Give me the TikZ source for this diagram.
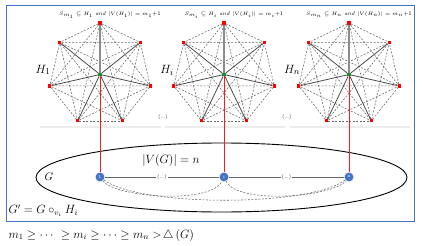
\documentclass[tikz,border=0pt]{standalone}
\usepackage{amsmath,amssymb}
\usetikzlibrary{shapes.geometric}
\definecolor{frameblue}{HTML}{4472C4}
\definecolor{hubgreen}{HTML}{1E8C2E}

\begin{document}
\begin{tikzpicture}[x=1pt,y=-1pt,
  hv/.style={fill=red,inner sep=0pt,minimum size=3.2pt},
  hc/.style={fill=hubgreen,inner sep=0pt,minimum size=3.4pt},
  gv/.style={circle,fill=frameblue,draw=white,line width=0.3pt,inner sep=0pt,
    minimum size=9.5pt,text=white,font=\fontsize{4.5}{5}\selectfont},
  spoke/.style={draw=black!70,line width=0.8pt},
  kedge/.style={draw=black!60,dash pattern=on 2pt off 1.5pt,line width=0.55pt},
  link/.style={draw=red!90,line width=1pt},
  gline/.style={draw=black!60,line width=0.7pt},
  dotlab/.style={font=\fontsize{5.5}{6}\selectfont,text=black!70,inner sep=1pt}]
\useasboundingbox (0,0) rectangle (423,246);
\draw[frameblue,line width=1pt] (6,6) rectangle (414,221);
% separators under the H graphs
\draw[black!7,line width=2pt] (40,127) -- (161,127);
\draw[black!7,line width=2pt] (165,127) -- (285,127);
\draw[black!7,line width=2pt] (290,127) -- (410,127);

% the graph G
\node[ellipse,draw,line width=0.9pt,minimum width=371pt,minimum height=69pt] (gset) at (221.5,177.5) {};
\node[gv] (g1) at (100,177) {1};
\node[gv] (g2) at (224,177) {i};
\node[gv] (g3) at (349,177) {n};
\draw[gline] (g1) -- node[dotlab,fill=white] {(\dots)} (g2);
\draw[gline] (g2) -- node[dotlab,fill=white] {(\dots)} (g3);
\draw[kedge] (g1) .. controls (115,197) and (210,205) .. (g2);
\draw[kedge] (g2) .. controls (238,205) and (333,197) .. (g3);
\draw[kedge] (g1) .. controls (140,207) and (310,207) .. (g3);
\node[font=\fontsize{11}{13}\selectfont] (glab) at (49,177) {$G$};
\node[font=\fontsize{12.5}{14}\selectfont] (vg) at (171,160) {$|V(G)|=n$};
\node[anchor=west,font=\fontsize{11.5}{13}\selectfont] (gprime) at (5,211) {$G'=G\circ_{v_i}H_i$};
\node[anchor=west,font=\fontsize{12}{14}\selectfont] (ineq) at (5,235)
  {$m_1\geq\cdots\ \geq m_i\geq\cdots\geq m_n>\!\triangle\,(G)$};

% the graphs H_1, H_i, H_n
\foreach \g/\cx/\lab in {1/100/1, 2/224/i, 3/349/n} {
  \node[hc] (h\g c) at (\cx,74.5) {};
  \foreach \k in {0,...,6}
    \node[hv] (h\g v\k) at ({\cx+51.5*cos(90+\k*360/7)},{74.5-51.5*sin(90+\k*360/7)}) {};
  \foreach \k in {0,...,5} {
    \pgfmathtruncatemacro\kk{\k+1}
    \foreach \j in {\kk,...,6}
      \draw[kedge] (h\g v\k) -- (h\g v\j);
  }
  \draw[draw=black!45,line width=1.2pt] (h\g c) -- (h\g v0);
  \foreach \k in {1,...,6}
    \draw[spoke] (h\g c) -- (h\g v\k);
  \draw[link] (h\g c) -- (g\g);
  \node[font=\fontsize{5.5}{6}\selectfont] (s\g) at (\cx+10,15)
    {$S_{m_{\lab}}\subseteq H_{\lab}$ \textit{and} $|V(H_{\lab})|=m_{\lab}$+1};
  \node[font=\fontsize{13}{15}\selectfont] (hl\g) at (\cx-57,70) {$H_{\lab}$};
}
\node[dotlab] (gap1) at (163,117) {(\dots)};
\node[dotlab] (gap2) at (287,117) {(\dots)};
\end{tikzpicture}
\end{document}
